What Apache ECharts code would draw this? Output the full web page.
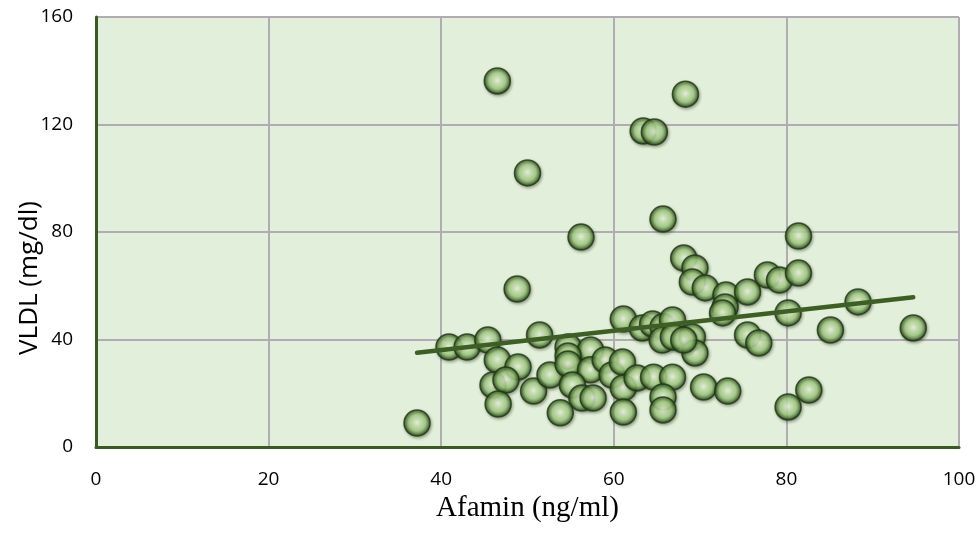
<!DOCTYPE html>
<html>
<head>
<meta charset="utf-8">
<script src="https://cdn.jsdelivr.net/npm/echarts@6/dist/echarts.min.js"></script>
<style>
  html, body { margin: 0; padding: 0; background: #ffffff; }
  #chart { width: 979px; height: 536px; }
</style>
</head>
<body>
<div id="chart"></div>
<script>
// Afamin (ng/ml) and VLDL (mg/dl) per subject
const afamin = [37.2, 46.5, 50.0, 63.4, 64.7, 68.3, 65.7, 56.2, 48.8, 81.4,
  40.9, 43.0, 45.4, 51.4, 46.5, 48.9, 46.0, 47.5, 46.6, 50.7,
  52.6, 61.1, 63.3, 64.5, 65.7, 66.8, 65.6, 54.7, 57.3, 54.7,
  54.7, 57.3, 59.0, 59.8, 61.0, 55.2, 56.3, 57.6, 53.8, 61.1,
  61.1, 62.7, 64.6, 66.8, 65.7, 65.7, 68.1, 69.4, 69.1, 70.6,
  73.0, 72.9, 72.6, 75.5, 77.8, 79.2, 81.4, 66.9, 69.1, 69.4,
  68.1, 75.5, 76.8, 80.2, 70.4, 73.2, 85.1, 88.3, 94.7, 82.6, 80.2];
const vldl = [8.9, 136.2, 102.0, 117.6, 117.2, 131.3, 84.8, 78.1, 58.8, 78.5,
  37.2, 37.2, 39.8, 41.7, 32.4, 29.8, 23.1, 24.9, 16.0, 20.8,
  26.8, 47.6, 44.3, 45.8, 44.7, 47.3, 39.8, 37.2, 36.1, 33.9,
  30.9, 28.7, 32.4, 26.8, 31.6, 23.1, 18.2, 18.2, 12.7, 22.0,
  13.0, 25.7, 26.0, 26.0, 18.6, 13.8, 70.3, 66.6, 61.4, 59.2,
  56.6, 52.1, 49.9, 57.7, 64.0, 62.1, 64.7, 40.9, 40.9, 35.0,
  39.8, 41.7, 38.7, 49.9, 22.3, 20.8, 43.5, 54.0, 44.3, 21.2, 14.9];

const xTicks = [0, 20, 40, 60, 80, 100];
const yTicks = [0, 40, 80, 120, 160];

// least-squares linear trend over the observed range
const n = afamin.length;
const mx = afamin.reduce((a, b) => a + b, 0) / n;
const my = vldl.reduce((a, b) => a + b, 0) / n;
let sxy = 0, sxx = 0;
for (let i = 0; i < n; i++) {
  sxy += (afamin[i] - mx) * (vldl[i] - my);
  sxx += (afamin[i] - mx) * (afamin[i] - mx);
}
const slope = sxy / sxx;
const icpt = my - slope * mx;
const xMin = Math.min(...afamin), xMax = Math.max(...afamin);
const trend = [[xMin, icpt + slope * xMin], [xMax, icpt + slope * xMax]];

const points = afamin.map((x, i) => [x, vldl[i]]);

// glossy bead fill: bright core fading to a dark green rim
const bead = {
  type: 'radial', x: 0.5, y: 0.48, r: 0.5,
  colorStops: [
    { offset: 0.0, color: '#f4fcec' },
    { offset: 0.25, color: '#cfe8b8' },
    { offset: 0.6, color: '#a6cf86' },
    { offset: 0.78, color: '#6a9450' },
    { offset: 0.9, color: '#3a5a26' },
    { offset: 1.0, color: '#22361a' }
  ]
};

const chart = echarts.init(document.getElementById('chart'));
chart.setOption({
  animation: false,
  grid: { left: 96, right: 20, top: 17, bottom: 89, show: true,
          backgroundColor: '#e2efda', borderWidth: 0 },
  graphic: [{
    type: 'text', x: 30, y: 278, rotation: Math.PI / 2,
    style: { text: 'VLDL (mg/dl)', fontFamily: 'Open Sans', fontSize: 26, fill: '#000',
             align: 'center', verticalAlign: 'middle' }
  }],
  xAxis: {
    type: 'value', min: 0, max: 100, interval: 20,
    name: 'Afamin (ng/ml)', nameLocation: 'middle', nameGap: 42,
    nameTextStyle: { fontFamily: 'Liberation Serif', fontSize: 29, color: '#000' },
    axisLine: { show: true, onZero: false, lineStyle: { color: '#3b5a23', width: 3 } },
    axisTick: { show: false },
    axisLabel: { fontFamily: 'Open Sans', fontSize: 19, color: '#000', margin: 23,
                 formatter: v => xTicks.includes(v) ? String(v) : '' },
    splitLine: { show: true, lineStyle: { color: '#b2acb2', width: 2 } }
  },
  yAxis: {
    type: 'value', min: 0, max: 160, interval: 40,
    axisLine: { show: true, onZero: false, lineStyle: { color: '#3b5a23', width: 3 } },
    axisTick: { show: false },
    axisLabel: { fontFamily: 'Open Sans', fontSize: 19, color: '#000', margin: 23,
                 formatter: v => yTicks.includes(v) ? String(v) : '' },
    splitLine: { show: true, lineStyle: { color: '#b2acb2', width: 2 } }
  },
  series: [
    {
      type: 'scatter', data: points, symbol: 'circle', symbolSize: 26, z: 3,
      itemStyle: { color: bead, borderColor: '#22361a', borderWidth: 1.5,
                   shadowColor: 'rgba(30,50,15,0.45)', shadowBlur: 3, shadowOffsetX: 1, shadowOffsetY: 1.5 }
    },
    {
      type: 'line', data: trend, symbol: 'none', z: 4, silent: true,
      lineStyle: { color: '#3d5e24', width: 4.5, cap: 'round' }
    }
  ]
});
</script>
</body>
</html>
